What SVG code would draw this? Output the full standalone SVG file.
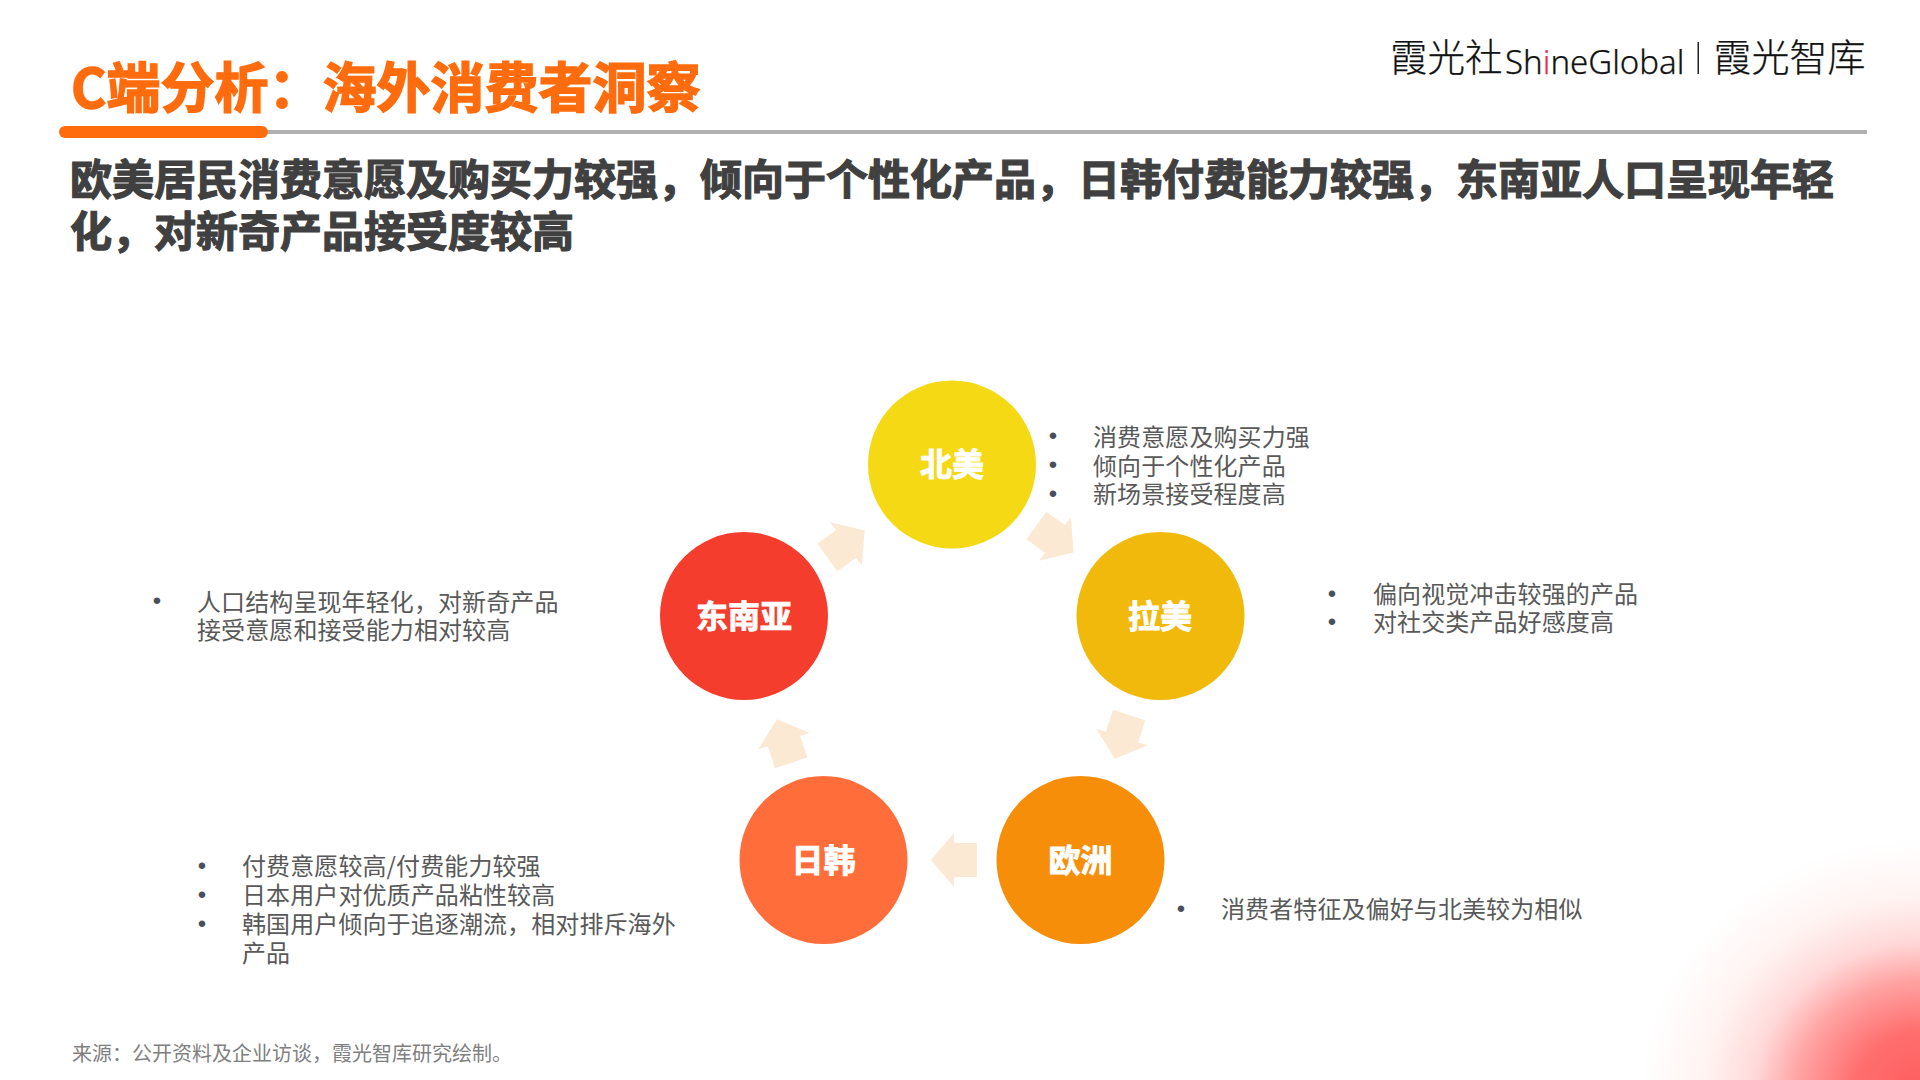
<svg xmlns="http://www.w3.org/2000/svg" width="1920" height="1080" viewBox="0 0 1920 1080">
<style>
text{font-family:"Microsoft YaHei","Noto Sans CJK SC","Noto Sans",sans-serif}
.b{font-size:24px;fill:#595959;letter-spacing:.1px}
.d{font-size:24px;fill:#4a4f5c;font-family:"Liberation Sans",sans-serif;text-anchor:middle}
.n{font-size:32px;font-weight:700;fill:#fff;text-anchor:middle;stroke:#fff;stroke-width:.9}
.l{font-weight:300;fill:#111;stroke:#111;stroke-width:.25}
.a{fill:#FCE9D3}
</style>
<defs>
<radialGradient id="g" gradientUnits="userSpaceOnUse" cx="1925" cy="1095" r="285" gradientTransform="translate(1925 1095) scale(1 .9) translate(-1925 -1095)">
<stop offset="0" stop-color="#FF5C5C"/><stop offset=".25" stop-color="#FF6E6E"/><stop offset=".45" stop-color="#FFA3A3"/><stop offset=".6" stop-color="#FFD9D9"/><stop offset=".78" stop-color="#FFF4F2"/><stop offset="1" stop-color="#FFFFFF"/>
</radialGradient>
<polygon id="arrow" points="-23,-17 0,-17 0,-27 23,0 0,27 0,17 -23,17"/>
</defs>
<rect width="1920" height="1080" fill="#fff"/>
<rect x="1600" y="780" width="320" height="300" fill="url(#g)"/>

<g id="header">
<text x="71" y="108" font-size="54" font-weight="700" fill="#FF6C0E" stroke="#FF6C0E" stroke-width="1.500">C端分析：海外消费者洞察</text>
<rect x="60" y="130" width="1807" height="4" fill="#B0B0B0"/>
<rect x="59" y="126" width="209" height="12" rx="6" fill="#FF6C0E"/>
<text font-size="42" font-weight="700" fill="#404040" stroke="#404040" stroke-width="1.200"><tspan x="70" y="195">欧美居民消费意愿及购买力较强，倾向于个性化产品，日韩付费能力较强，东南亚人口呈现年轻</tspan><tspan x="70" y="247">化，对新奇产品接受度较高</tspan></text>
</g>

<g id="logo">
<text class="l" x="1390" y="71" font-size="37.500">霞光社</text>
<text x="1505" y="74" font-size="33" font-weight="300" fill="#111" stroke="#111" stroke-width=".25" style="font-family:'Noto Sans',sans-serif">Sh<tspan fill="#F0304A" stroke="#F0304A">i</tspan>neGlobal</text>
<rect x="1697.500" y="42" width="1.500" height="32" fill="#222"/>
<text class="l" x="1713.500" y="71" font-size="38">霞光智库</text>
</g>

<g id="connectors">
<use href="#arrow" class="a" transform="translate(954 860) rotate(180)"/>
<use href="#arrow" class="a" transform="translate(784 741) rotate(252)"/>
<use href="#arrow" class="a" transform="translate(846 544) rotate(324)"/>
<use href="#arrow" class="a" transform="translate(1055 539) rotate(36)"/>
<use href="#arrow" class="a" transform="translate(1122 737) rotate(108)"/>
</g>

<g id="node-beimei">
<circle cx="952" cy="464.500" r="84" fill="#F5D914"/>
<text class="n" x="952" y="476">北美</text>
</g>
<g id="node-lamei">
<circle cx="1160.500" cy="616" r="84" fill="#F0B90B"/>
<text class="n" x="1160" y="628">拉美</text>
</g>
<g id="node-dongnanya">
<circle cx="744" cy="616" r="84" fill="#F53D2E"/>
<text class="n" x="744" y="628">东南亚</text>
</g>
<g id="node-rihan">
<circle cx="823.500" cy="860" r="84" fill="#FF6D3B"/>
<text class="n" x="823.500" y="872">日韩</text>
</g>
<g id="node-ouzhou">
<circle cx="1080.500" cy="860" r="84" fill="#F68E0A"/>
<text class="n" x="1080.500" y="872">欧洲</text>
</g>

<g id="notes-beimei">
<text class="d" x="1053" y="444">•</text><text class="b" x="1093" y="446">消费意愿及购买力强</text>
<text class="d" x="1053" y="473">•</text><text class="b" x="1093" y="475">倾向于个性化产品</text>
<text class="d" x="1053" y="502">•</text><text class="b" x="1093" y="503">新场景接受程度高</text>
</g>
<g id="notes-lamei">
<text class="d" x="1332" y="602">•</text><text class="b" x="1373" y="603">偏向视觉冲击较强的产品</text>
<text class="d" x="1332" y="630">•</text><text class="b" x="1373" y="631">对社交类产品好感度高</text>
</g>
<g id="notes-dongnanya">
<text class="d" x="157" y="609">•</text><text class="b" x="197" y="611">人口结构呈现年轻化，对新奇产品</text>
<text class="b" x="197" y="639">接受意愿和接受能力相对较高</text>
</g>
<g id="notes-rihan">
<text class="d" x="202" y="874">•</text><text class="b" x="242" y="875">付费意愿较高/付费能力较强</text>
<text class="d" x="202" y="903">•</text><text class="b" x="242" y="904">日本用户对优质产品粘性较高</text>
<text class="d" x="202" y="932">•</text><text class="b" x="242" y="933">韩国用户倾向于追逐潮流，相对排斥海外</text>
<text class="b" x="242" y="962">产品</text>
</g>
<g id="notes-ouzhou">
<text class="d" x="1181" y="917">•</text><text class="b" x="1221" y="918">消费者特征及偏好与北美较为相似</text>
</g>

<text id="source" x="72" y="1061" font-size="20" fill="#7F7F7F">来源：公开资料及企业访谈，霞光智库研究绘制。</text>
</svg>
